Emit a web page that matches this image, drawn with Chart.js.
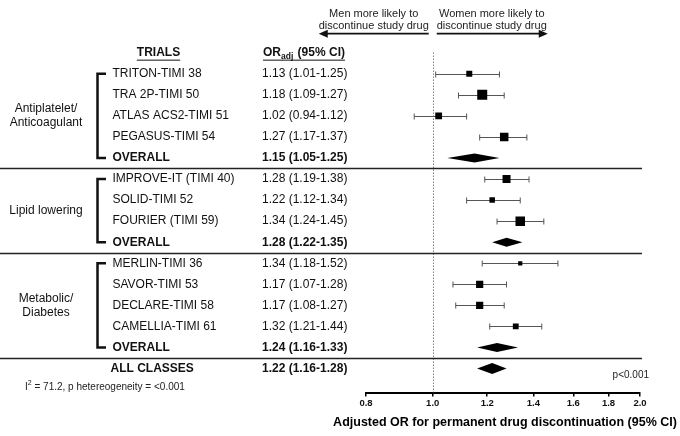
<!DOCTYPE html>
<html>
<head>
<meta charset="utf-8">
<script src="https://cdn.jsdelivr.net/npm/chart.js@4.4.1/dist/chart.umd.min.js"></script>
<style>
  body { margin: 0; background: #fff; }
  #forest { display: block; }
</style>
</head>
<body>
<canvas id="forest" width="680" height="436"></canvas>
<script>
// rows top to bottom
const rowLabels = [
  "TRITON-TIMI 38", "TRA 2P-TIMI 50", "ATLAS ACS2-TIMI 51", "PEGASUS-TIMI 54", "OVERALL",
  "IMPROVE-IT (TIMI 40)", "SOLID-TIMI 52", "FOURIER (TIMI 59)", "OVERALL",
  "MERLIN-TIMI 36", "SAVOR-TIMI 53", "DECLARE-TIMI 58", "CAMELLIA-TIMI 61", "OVERALL",
  "ALL CLASSES",
];
const rowKinds = [
  "trial", "trial", "trial", "trial", "pooled",
  "trial", "trial", "trial", "pooled",
  "trial", "trial", "trial", "trial", "pooled",
  "total",
];
const orValues = [1.13, 1.18, 1.02, 1.27, 1.15, 1.28, 1.22, 1.34, 1.28, 1.34, 1.17, 1.17, 1.32, 1.24, 1.22];
const ciLower  = [1.01, 1.09, 0.94, 1.17, 1.05, 1.19, 1.12, 1.24, 1.22, 1.18, 1.07, 1.08, 1.21, 1.16, 1.16];
const ciUpper  = [1.25, 1.27, 1.12, 1.37, 1.25, 1.38, 1.34, 1.45, 1.35, 1.52, 1.28, 1.27, 1.44, 1.33, 1.28];
// relative study weight (drives square size)
const studyWeights = [0.6, 1.0, 0.68, 0.85, null, 0.8, 0.55, 0.95, null, 0.42, 0.72, 0.72, 0.58, null, null];

const groupLabels = [["Antiplatelet/", "Anticoagulant"], ["Lipid lowering"], ["Metabolic/", "Diabetes"]];
const groupRows = [[0, 4], [5, 8], [9, 13]];

const xTicks = [0.8, 1.0, 1.2, 1.4, 1.6, 1.8, 2.0];
const xTitle = "Adjusted OR for permanent drug discontinuation (95% CI)";
const heterogeneity = " = 71.2, p hetereogeneity = <0.001";
const pOverall = "p<0.001";

const FONT = '"Liberation Sans", Arial, Helvetica, sans-serif';
const INK = "#111";

function fmt(v) {
  return v.toFixed(2);
}

function arrow(ctx, from, to, py) {
  const dir = Math.sign(to - from);
  ctx.beginPath();
  ctx.moveTo(from, py);
  ctx.lineTo(to - dir * 8, py);
  ctx.stroke();
  ctx.beginPath();
  ctx.moveTo(to, py);
  ctx.lineTo(to - dir * 9, py - 4);
  ctx.lineTo(to - dir * 9, py + 4);
  ctx.closePath();
  ctx.fill();
}

const forestPlugin = {
  id: "forest",
  beforeDatasetsDraw(chart) {
    const { ctx, chartArea } = chart;
    const x = chart.scales.x, y = chart.scales.y;
    ctx.save();

    // line of no effect
    const x1 = Math.round(x.getPixelForValue(1)) + 0.5;
    ctx.strokeStyle = "#444";
    ctx.lineWidth = 1;
    ctx.setLineDash([1, 2]);
    ctx.beginPath();
    ctx.moveTo(x1, y.getPixelForValue(-1));
    ctx.lineTo(x1, chartArea.bottom);
    ctx.stroke();
    ctx.setLineDash([]);

    // separators between classes
    ctx.strokeStyle = "#222";
    ctx.lineWidth = 1.5;
    [4.5, 8.5, 13.5].forEach((r) => {
      const py = Math.round(y.getPixelForValue(r)) + 0.5;
      ctx.beginPath();
      ctx.moveTo(0, py);
      ctx.lineTo(chartArea.right + 2, py);
      ctx.stroke();
    });

    // confidence intervals
    ctx.strokeStyle = "#555";
    ctx.lineWidth = 1;
    rowKinds.forEach((k, i) => {
      if (k !== "trial") return;
      const py = Math.round(y.getPixelForValue(i)) + 0.5;
      const a = x.getPixelForValue(ciLower[i]);
      const b = x.getPixelForValue(ciUpper[i]);
      ctx.beginPath();
      ctx.moveTo(a, py); ctx.lineTo(b, py);
      ctx.moveTo(a, py - 3); ctx.lineTo(a, py + 3);
      ctx.moveTo(b, py - 3); ctx.lineTo(b, py + 3);
      ctx.stroke();
    });

    // pooled diamonds
    ctx.fillStyle = "#000";
    rowKinds.forEach((k, i) => {
      if (k === "trial") return;
      const py = y.getPixelForValue(i);
      const h = k === "total" ? 5.5 : 4.5;
      ctx.beginPath();
      ctx.moveTo(x.getPixelForValue(ciLower[i]), py);
      ctx.lineTo(x.getPixelForValue(orValues[i]), py - h);
      ctx.lineTo(x.getPixelForValue(ciUpper[i]), py);
      ctx.lineTo(x.getPixelForValue(orValues[i]), py + h);
      ctx.closePath();
      ctx.fill();
    });
    ctx.restore();
  },

  afterDraw(chart) {
    const { ctx, chartArea } = chart;
    const x = chart.scales.x, y = chart.scales.y;
    ctx.save();
    ctx.fillStyle = INK;
    ctx.strokeStyle = INK;
    ctx.textBaseline = "middle";

    // column headers
    const hy = y.getPixelForValue(-1);
    ctx.font = "bold 12px " + FONT;
    ctx.textAlign = "center";
    ctx.fillText("TRIALS", 158.5, hy);
    let w = ctx.measureText("TRIALS").width;
    ctx.lineWidth = 1;
    ctx.beginPath();
    ctx.moveTo(158.5 - w / 2, hy + 7.5); ctx.lineTo(158.5 + w / 2, hy + 7.5);
    ctx.stroke();

    ctx.textAlign = "left";
    let cx = 263;
    ctx.fillText("OR", cx, hy);
    cx += ctx.measureText("OR").width;
    ctx.font = "bold 8.5px " + FONT;
    ctx.fillText("adj", cx, hy + 4);
    cx += ctx.measureText("adj").width + 1;
    ctx.font = "bold 12px " + FONT;
    ctx.fillText(" (95% CI)", cx, hy);
    cx += ctx.measureText(" (95% CI)").width;
    ctx.beginPath();
    ctx.moveTo(263, hy + 7.5); ctx.lineTo(cx, hy + 7.5);
    ctx.stroke();

    // trial names and OR text
    rowLabels.forEach((label, i) => {
      const py = y.getPixelForValue(i);
      const bold = rowKinds[i] !== "trial";
      ctx.font = (bold ? "bold " : "") + "12px " + FONT;
      ctx.textAlign = "left";
      ctx.fillText(label, rowKinds[i] === "total" ? 110.5 : 112.5, py);
      ctx.fillText(fmt(orValues[i]) + " (" + fmt(ciLower[i]) + "-" + fmt(ciUpper[i]) + ")", 262, py);
    });

    // class labels and brackets
    ctx.font = "12px " + FONT;
    ctx.textAlign = "center";
    groupLabels.forEach((lines, g) => {
      const [r0, r1] = groupRows[g];
      const mid = y.getPixelForValue((r0 + r1) / 2);
      lines.forEach((t, j) => {
        ctx.fillText(t, 46, mid + (j - (lines.length - 1) / 2) * 14);
      });
      const top = y.getPixelForValue(r0), bot = y.getPixelForValue(r1);
      ctx.lineWidth = 2.5;
      ctx.beginPath();
      ctx.moveTo(106, top); ctx.lineTo(97.5, top);
      ctx.lineTo(97.5, bot); ctx.lineTo(106, bot);
      ctx.stroke();
    });

    // direction arrows
    const x1 = x.getPixelForValue(1);
    ctx.font = "11px " + FONT;
    ctx.fillStyle = "#222";
    ctx.strokeStyle = "#111";
    ctx.fillText("Men more likely to", x1 - 59, y.getPixelForValue(-2.85));
    ctx.fillText("discontinue study drug", x1 - 59, y.getPixelForValue(-2.28));
    ctx.fillText("Women more likely to", x1 + 59, y.getPixelForValue(-2.85));
    ctx.fillText("discontinue study drug", x1 + 59, y.getPixelForValue(-2.28));
    ctx.fillStyle = "#111";
    ctx.lineWidth = 1.8;
    const ay = y.getPixelForValue(-1.9);
    arrow(ctx, x1 - 4, x1 - 114, ay);
    arrow(ctx, x1 + 4, x1 + 115, ay);

    // footnotes
    ctx.fillStyle = "#222";
    ctx.font = "10px " + FONT;
    ctx.textAlign = "right";
    ctx.fillText(pOverall, chartArea.right + 9, y.getPixelForValue(14.3));
    ctx.textAlign = "left";
    const fy = y.getPixelForValue(14.9);
    ctx.fillText("I", 25, fy);
    let fx = 25 + ctx.measureText("I").width;
    ctx.font = "7px " + FONT;
    ctx.fillText("2", fx, fy - 4);
    fx += ctx.measureText("2").width;
    ctx.font = "10px " + FONT;
    ctx.fillText(heterogeneity, fx, fy);

    // x axis title, wider than the axis itself
    ctx.fillStyle = "#000";
    ctx.font = "bold 12.5px " + FONT;
    ctx.textAlign = "center";
    ctx.fillText(xTitle, (chartArea.left + chartArea.right) / 2 + 2, chartArea.bottom + 29.5);
    ctx.restore();
  },
};

const trialIdx = rowKinds.map((k, i) => i).filter((i) => rowKinds[i] === "trial");

new Chart(document.getElementById("forest"), {
  type: "scatter",
  data: {
    datasets: [
      {
        label: "Trials",
        data: trialIdx.map((i) => ({ x: orValues[i], y: i })),
        pointStyle: "rect",
        pointRadius: trialIdx.map((i) => (studyWeights[i] * 10) / Math.SQRT2),
        pointHoverRadius: trialIdx.map((i) => (studyWeights[i] * 10) / Math.SQRT2),
        backgroundColor: "#000",
        borderWidth: 0,
      },
    ],
  },
  options: {
    responsive: false,
    animation: false,
    devicePixelRatio: 1,
    layout: { autoPadding: false, padding: { left: 366, right: 40, top: 0, bottom: 26 } },
    plugins: { legend: { display: false }, tooltip: { enabled: false } },
    scales: {
      x: {
        type: "logarithmic",
        min: 0.8,
        max: 2.0,
        afterBuildTicks: (axis) => {
          axis.ticks = xTicks.map((v) => ({ value: v, major: false }));
        },
        grid: { drawOnChartArea: false, drawTicks: true, tickLength: 4, color: "#000", lineWidth: 1.5 },
        border: { display: true, color: "#000", width: 2 },
        ticks: {
          autoSkip: false,
          maxRotation: 0,
          padding: 1,
          color: "#111",
          font: { family: FONT, size: 9.5, weight: "bold" },
          callback: (v) => Number(v).toFixed(1),
        },
        title: { display: false },
      },
      y: {
        type: "linear",
        display: false,
        reverse: true,
        min: -3.5,
        max: 15.14,
      },
    },
  },
  plugins: [forestPlugin],
});
</script>
</body>
</html>
